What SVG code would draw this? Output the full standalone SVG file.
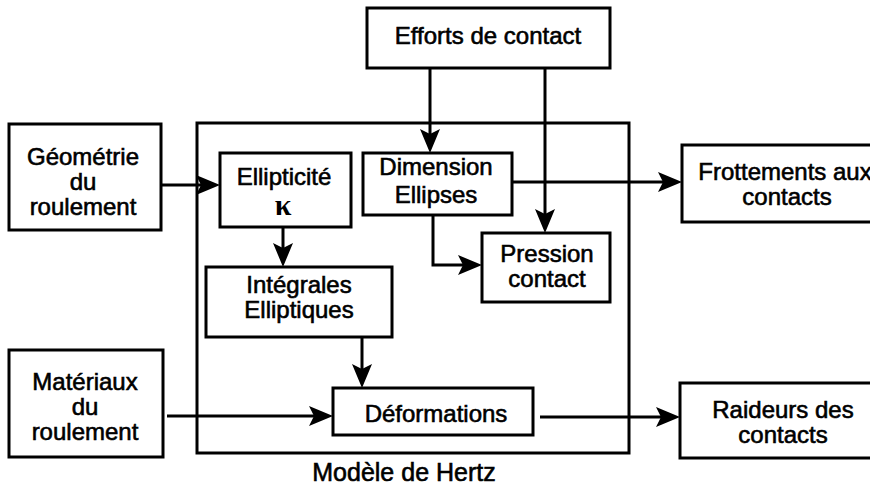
<svg xmlns="http://www.w3.org/2000/svg" width="870" height="488" viewBox="0 0 870 488">
<style>
.box{fill:#fff;stroke:#000;stroke-width:3}
.frame{fill:none;stroke:#000;stroke-width:3}
.t{font-family:"Liberation Sans",Arial,sans-serif;font-size:24px;fill:#000;stroke:#000;stroke-width:0.6;text-anchor:middle}
.c{fill:none;stroke:#000;stroke-width:3}
</style>
<defs>
<marker id="ah" markerUnits="userSpaceOnUse" markerWidth="26" markerHeight="22" viewBox="0 0 26 22" refX="14" refY="11" orient="auto">
<path d="M0,1 L24,11 L0,21 L5,11 Z" fill="#000"/>
</marker>
</defs>
<rect width="870" height="488" fill="#fff"/>
<g id="hertz">
<rect class="frame" x="197" y="123" width="432" height="330"/>
<text class="t" x="404" y="481" style="font-size:25px">Modèle de Hertz</text>
</g>
<g id="connectors">
<path class="c" d="M161,185 H210" marker-end="url(#ah)"/>
<path class="c" d="M430,68 V143" marker-end="url(#ah)"/>
<path class="c" d="M545,68 V223" marker-end="url(#ah)"/>
<path class="c" d="M512,182 H672" marker-end="url(#ah)"/>
<path class="c" d="M433,215 V265 H472" marker-end="url(#ah)"/>
<path class="c" d="M283,227 V257" marker-end="url(#ah)"/>
<path class="c" d="M362,337 V378" marker-end="url(#ah)"/>
<path class="c" d="M167,416 H323" marker-end="url(#ah)"/>
<path class="c" d="M540,417 H670" marker-end="url(#ah)"/>
</g>
<g id="efforts">
<rect class="box" x="367" y="8" width="243" height="60"/>
<text class="t" x="488" y="44">Efforts de contact</text>
</g>
<g id="geometrie">
<rect class="box" x="9" y="124" width="152" height="106"/>
<text class="t" x="83" y="165">Géométrie</text>
<text class="t" x="83" y="190">du</text>
<text class="t" x="83" y="215">roulement</text>
</g>
<g id="ellipticite">
<rect class="box" x="220" y="153" width="131" height="74"/>
<text class="t" x="284" y="185">Ellipticité</text>
<text x="283" y="215" style="font-family:'Liberation Serif','Times New Roman',serif;font-size:30px;font-weight:bold;text-anchor:middle;fill:#000">κ</text>
</g>
<g id="dimension">
<rect class="box" x="363" y="153" width="149" height="62"/>
<text class="t" x="436" y="175">Dimension</text>
<text class="t" x="436" y="203">Ellipses</text>
</g>
<g id="pression">
<rect class="box" x="482" y="233" width="128" height="69"/>
<text class="t" x="547" y="262">Pression</text>
<text class="t" x="547" y="287">contact</text>
</g>
<g id="integrales">
<rect class="box" x="206" y="267" width="186" height="70"/>
<text class="t" x="299" y="293">Intégrales</text>
<text class="t" x="299" y="318">Elliptiques</text>
</g>
<g id="deformations">
<rect class="box" x="333" y="388" width="200" height="47"/>
<text class="t" x="436" y="422">Déformations</text>
</g>
<g id="materiaux">
<rect class="box" x="9" y="350" width="154" height="107"/>
<text class="t" x="85" y="390">Matériaux</text>
<text class="t" x="85" y="415">du</text>
<text class="t" x="85" y="440">roulement</text>
</g>
<g id="frottements">
<rect class="box" x="682" y="145" width="200" height="77"/>
<text class="t" x="785" y="180">Frottements aux</text>
<text class="t" x="787" y="205">contacts</text>
</g>
<g id="raideurs">
<rect class="box" x="680" y="383" width="200" height="75"/>
<text class="t" x="783" y="418">Raideurs des</text>
<text class="t" x="783" y="443">contacts</text>
</g>
</svg>
